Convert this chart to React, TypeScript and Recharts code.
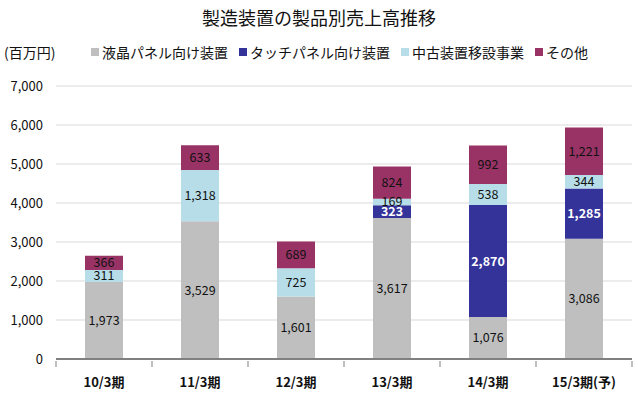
import { BarChart, Bar, XAxis, YAxis, CartesianGrid, LabelList } from "recharts";

const periods = ["10/3期", "11/3期", "12/3期", "13/3期", "14/3期", "15/3期(予)"];
const lcd = [1973, 3529, 1601, 3617, 1076, 3086];
const touch = [0, 0, 0, 323, 2870, 1285];
const used = [311, 1318, 725, 169, 538, 344];
const other = [366, 633, 689, 824, 992, 1221];
const yTicks = [0, 1000, 2000, 3000, 4000, 5000, 6000, 7000];

const FONT = "'Noto Sans CJK JP', 'Noto Sans', sans-serif";

const SERIES = [
  { key: "lcd", name: "液晶パネル向け装置", color: "#BFBFBF", label: "#111", bold: false },
  { key: "touch", name: "タッチパネル向け装置", color: "#333399", label: "#fff", bold: true },
  { key: "used", name: "中古装置移設事業", color: "#B7DEE8", label: "#111", bold: false },
  { key: "other", name: "その他", color: "#993366", label: "#111", bold: false },
];

const data = periods.map((p, i) => ({
  p,
  lcd: lcd[i],
  touch: touch[i],
  used: used[i],
  other: other[i],
}));

const fmt = (v: any) => (v ? Number(v).toLocaleString("en-US") : "");

const BAND = 96;

function XTick({ x, y, payload, index }: any) {
  const half = BAND / 2;
  return (
    <g>
      <line x1={x - half} x2={x - half} y1={y} y2={y + 6} stroke="#808080" />
      {index === periods.length - 1 && (
        <line x1={x + half} x2={x + half} y1={y} y2={y + 6} stroke="#808080" />
      )}
      <text x={x} y={y + 26} textAnchor="middle" fontSize={13} fontWeight={700} fill="#111" fontFamily={FONT}>
        {payload.value}
      </text>
    </g>
  );
}

export default function App() {
  return (
    <div style={{ position: "absolute", left: 0, top: 0, width: 638, height: 393, background: "#fff", fontFamily: FONT }}>
      <div
        style={{
          position: "absolute",
          top: 4,
          left: 0,
          width: 638,
          textAlign: "center",
          fontSize: 18,
          color: "#111",
        }}
      >
        製造装置の製品別売上高推移
      </div>
      <div style={{ position: "absolute", top: 42, left: 4, fontSize: 14, color: "#111" }}>(百万円)</div>
      <div style={{ position: "absolute", top: 42, left: 91, display: "flex", fontSize: 14, color: "#111", whiteSpace: "nowrap" }}>
        {SERIES.map((s) => (
          <span key={s.key} style={{ display: "flex", alignItems: "center", marginRight: 11 }}>
            <span style={{ width: 8, height: 8, background: s.color, display: "inline-block", marginRight: 3 }} />
            {s.name}
          </span>
        ))}
      </div>
      <BarChart
        width={638}
        height={393}
        data={data}
        margin={{ top: 86, right: 6, bottom: 0, left: 0 }}
        style={{ position: "absolute", left: 0, top: 0 }}
      >
        <CartesianGrid stroke="#D9D9D9" vertical={false} />
        <XAxis
          dataKey="p"
          tick={<XTick />}
          tickLine={false}
          tickSize={0}
          axisLine={{ stroke: "#808080", strokeWidth: 2 }}
          interval={0}
          height={34}
        />
        <YAxis
          domain={[0, 7000]}
          ticks={yTicks}
          width={56}
          tickLine={false}
          axisLine={false}
          tickSize={0}
          tickMargin={13}
          tickFormatter={(v: number) => v.toLocaleString("en-US")}
          tick={{ fontSize: 13, fill: "#111", fontFamily: FONT }}
        />
        {SERIES.map((s) => (
          <Bar key={s.key} dataKey={s.key} stackId="a" fill={s.color} barSize={38} isAnimationActive={false}>
            <LabelList
              dataKey={s.key}
              position="center"
              formatter={fmt}
              fill={s.label}
              fontSize={12.5}
              fontWeight={s.bold ? 700 : 400}
              fontFamily={FONT}
            />
          </Bar>
        ))}
      </BarChart>
    </div>
  );
}
